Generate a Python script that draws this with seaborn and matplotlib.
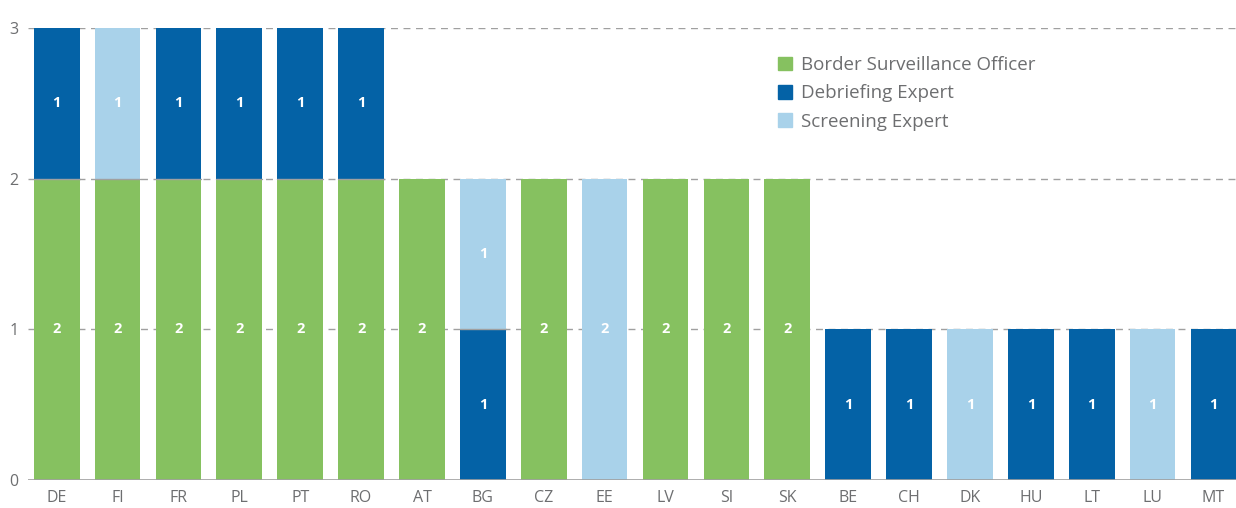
import numpy as np
import pandas as pd
import seaborn as sns
import matplotlib.pyplot as plt
from matplotlib.patches import Patch

# data
countries = ['DE', 'FI', 'FR', 'PL', 'PT', 'RO', 'AT', 'BG', 'CZ', 'EE',
             'LV', 'SI', 'SK', 'BE', 'CH', 'DK', 'HU', 'LT', 'LU', 'MT']
border_surveillance = [2, 2, 2, 2, 2, 2, 2, 0, 2, 0, 2, 2, 2, 0, 0, 0, 0, 0, 0, 0]
debriefing = [1, 0, 1, 1, 1, 1, 0, 1, 0, 0, 0, 0, 0, 1, 1, 0, 1, 1, 0, 1]
screening = [0, 1, 0, 0, 0, 0, 0, 1, 0, 2, 0, 0, 0, 0, 0, 1, 0, 0, 1, 0]

series_names = ['Border Surveillance Officer', 'Debriefing Expert', 'Screening Expert']
colors = ['#86c160', '#0462a6', '#a9d2ea']
text_grey = '#6d6e70'
grid_grey = '#a0a0a0'

sns.set_style('white')
plt.rcParams['font.family'] = ['Open Sans', 'DejaVu Sans']

df = pd.DataFrame({'country': countries,
                   series_names[0]: border_surveillance,
                   series_names[1]: debriefing,
                   series_names[2]: screening})

fig = plt.figure(figsize=(12.36, 5.08), dpi=100)
ax = fig.add_axes([0.0227, 0.0551, 0.9773, 0.8898])

bottom = np.zeros(len(countries))
for i, (name, col) in enumerate(zip(series_names, colors)):
    vals = df[name].to_numpy()
    sns.barplot(x=df['country'], y=vals, bottom=bottom, color=col, width=0.75,
                saturation=1, linewidth=0, ax=ax, zorder=2)
    cont = ax.containers[-1]
    labels = [str(v) if v > 0 else '' for v in vals]
    ax.bar_label(cont, labels=labels, label_type='center', color='white',
                 fontsize=10.5, fontweight='bold')
    # thin grey seam where this segment sits on top of another one
    if i > 0:
        for p in cont.patches:
            if p.get_height() > 0 and p.get_y() > 0:
                ax.plot([p.get_x(), p.get_x() + p.get_width()], [p.get_y()] * 2,
                        color=grid_grey, lw=1, zorder=3)
    bottom = bottom + vals

ax.set_xlim(-0.47, 19.37)
ax.set_ylim(0, 3)
ax.set_yticks([0, 1, 2, 3])
for y in [1, 2, 3]:
    ax.axhline(y, color=grid_grey, lw=1, ls=(0, (5, 4)), zorder=1)
ax.axhline(0, color=grid_grey, lw=1.2, zorder=3)

for s in ax.spines.values():
    s.set_visible(False)
ax.tick_params(axis='both', length=0, colors=text_grey, labelsize=11.5)
ax.tick_params(axis='y', pad=7)
ax.tick_params(axis='x', pad=7)
ax.set_xlabel('')
ax.set_ylabel('')

handles = [Patch(color=c, label=n) for n, c in zip(series_names, colors)]
leg = ax.legend(handles=handles, loc='upper left', bbox_to_anchor=(0.607, 0.975),
                frameon=False, fontsize=13.5, handlelength=0.75, handleheight=0.75,
                handletextpad=0.45, labelspacing=0.55)
for t in leg.get_texts():
    t.set_color(text_grey)

fig.savefig('out.png', dpi=100)
